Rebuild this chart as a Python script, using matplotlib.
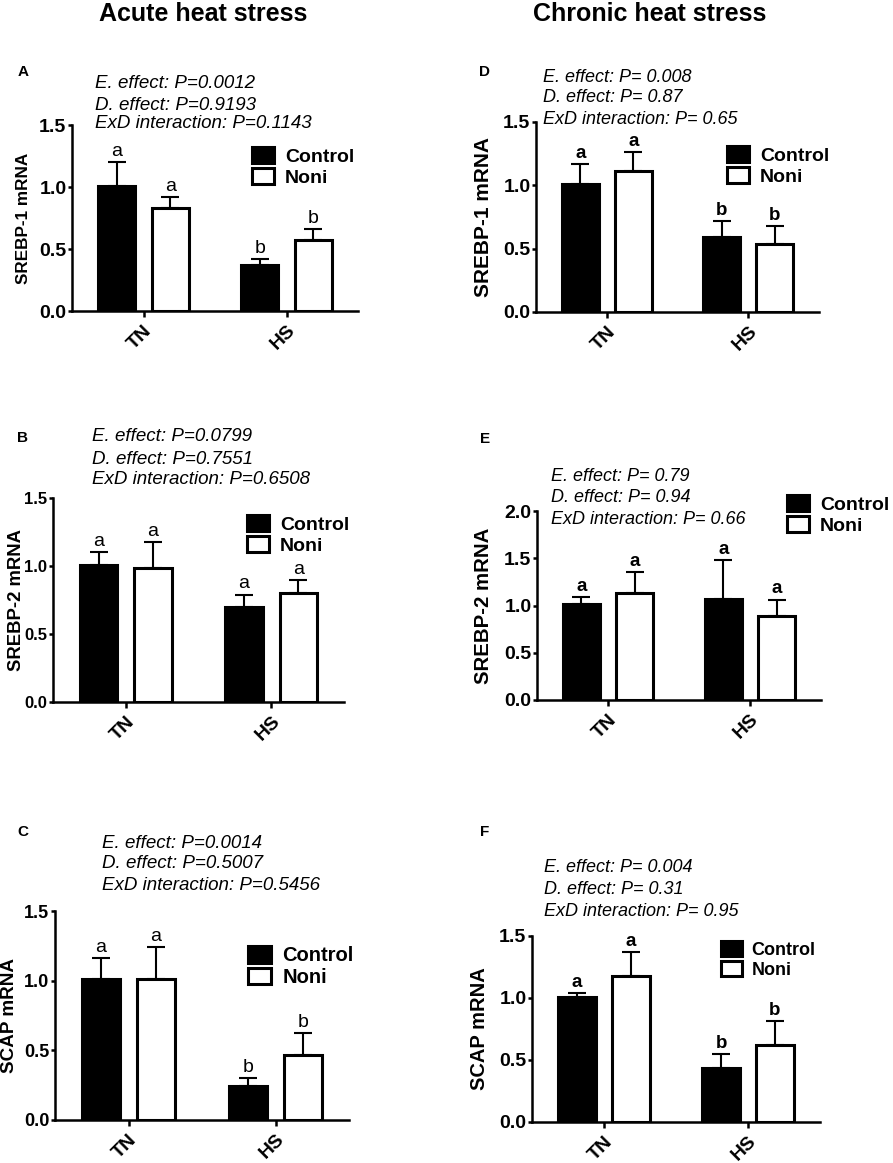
import matplotlib
matplotlib.use("Agg")
import matplotlib.pyplot as plt
from matplotlib.patches import Patch

plt.rcParams['font.family'] = ['Liberation Sans', 'DejaVu Sans']

W, H = 893, 1163
groups = ['TN', 'HS']
series_names = ['Control', 'Noni']

# Panel values (mean, upper SEM)
A_control = [1.01, 0.37]; A_control_err = [0.19, 0.05]
A_noni = [0.83, 0.57];    A_noni_err = [0.09, 0.09]
B_control = [1.01, 0.70]; B_control_err = [0.09, 0.09]
B_noni = [0.985, 0.805];  B_noni_err = [0.19, 0.09]
C_control = [1.01, 0.245]; C_control_err = [0.155, 0.055]
C_noni = [1.015, 0.465];   C_noni_err = [0.227, 0.16]
D_control = [1.01, 0.59]; D_control_err = [0.16, 0.13]
D_noni = [1.11, 0.54];    D_noni_err = [0.15, 0.14]
E_control = [1.014, 1.074]; E_control_err = [0.076, 0.405]
E_noni = [1.134, 0.894];    E_noni_err = [0.222, 0.169]
F_control = [1.01, 0.439]; F_control_err = [0.032, 0.108]
F_noni = [1.177, 0.625];   F_noni_err = [0.194, 0.188]

A_letters = [['a', 'b'], ['a', 'b']]
B_letters = [['a', 'a'], ['a', 'a']]
C_letters = [['a', 'b'], ['a', 'b']]
D_letters = [['a', 'b'], ['a', 'b']]
E_letters = [['a', 'a'], ['a', 'a']]
F_letters = [['a', 'b'], ['a', 'b']]

A_stats = ['E. effect: P=0.0012', 'D. effect: P=0.9193', 'ExD interaction: P=0.1143']
B_stats = ['E. effect: P=0.0799', 'D. effect: P=0.7551', 'ExD interaction: P=0.6508']
C_stats = ['E. effect: P=0.0014', 'D. effect: P=0.5007', 'ExD interaction: P=0.5456']
D_stats = ['E. effect: P= 0.008', 'D. effect: P= 0.87', 'ExD interaction: P= 0.65']
E_stats = ['E. effect: P= 0.79', 'D. effect: P= 0.94', 'ExD interaction: P= 0.66']
F_stats = ['E. effect: P= 0.004', 'D. effect: P= 0.31', 'ExD interaction: P= 0.95']

ylabels = {'A': 'SREBP-1 mRNA', 'B': 'SREBP-2 mRNA', 'C': 'SCAP mRNA',
           'D': 'SREBP-1 mRNA', 'E': 'SREBP-2 mRNA', 'F': 'SCAP mRNA'}
col_titles = ['Acute heat stress', 'Chronic heat stress']

panels = [
    dict(name='A', ctrl=A_control, ce=A_control_err, noni=A_noni, ne=A_noni_err, let=A_letters, stats=A_stats,
         box=(72, 125, 358, 311), ymax=1.5, ticks=[0, 0.5, 1.0, 1.5], bold_let=False, ylab_x=31, ylab_fs=12.3,
         tick_fs=14, stat_xy=(95, [84, 105, 124]), stat_fs=13.5, leg=(252, 147), leg_fs=14, letter=(23, 72)),
    dict(name='B', ctrl=B_control, ce=B_control_err, noni=B_noni, ne=B_noni_err, let=B_letters, stats=B_stats,
         box=(53, 498, 344, 702), ymax=1.5, ticks=[0, 0.5, 1.0, 1.5], bold_let=False, ylab_x=25, ylab_fs=13.3,
         tick_fs=12, stat_xy=(92, [437, 459, 480]), stat_fs=13.5, leg=(247, 515), leg_fs=14, letter=(23, 438)),
    dict(name='C', ctrl=C_control, ce=C_control_err, noni=C_noni, ne=C_noni_err, let=C_letters, stats=C_stats,
         box=(55, 911, 349, 1120), ymax=1.5, ticks=[0, 0.5, 1.0, 1.5], bold_let=False, ylab_x=18.5, ylab_fs=13.6,
         tick_fs=13, stat_xy=(102, [843, 864, 886]), stat_fs=13.5, leg=(248, 946), leg_fs=14.5, letter=(23, 832)),
    dict(name='D', ctrl=D_control, ce=D_control_err, noni=D_noni, ne=D_noni_err, let=D_letters, stats=D_stats,
         box=(536, 122, 819, 312), ymax=1.5, ticks=[0, 0.5, 1.0, 1.5], bold_let=True, ylab_x=493, ylab_fs=15,
         tick_fs=14, stat_xy=(543, [77, 98, 120]), stat_fs=13, leg=(727, 146), leg_fs=14, letter=(485, 72)),
    dict(name='E', ctrl=E_control, ce=E_control_err, noni=E_noni, ne=E_noni_err, let=E_letters, stats=E_stats,
         box=(537, 511, 821, 700), ymax=2.0, ticks=[0, 0.5, 1.0, 1.5, 2.0], bold_let=True, ylab_x=493, ylab_fs=14.7,
         tick_fs=14, stat_xy=(551, [477, 498, 520]), stat_fs=13, leg=(787, 495), leg_fs=14, letter=(485, 439)),
    dict(name='F', ctrl=F_control, ce=F_control_err, noni=F_noni, ne=F_noni_err, let=F_letters, stats=F_stats,
         box=(532, 936, 820, 1122), ymax=1.5, ticks=[0, 0.5, 1.0, 1.5], bold_let=True, ylab_x=489, ylab_fs=14.5,
         tick_fs=14, stat_xy=(544, [867, 889, 911]), stat_fs=13, leg=(721, 941), leg_fs=13, letter=(485, 832)),
]

fig = plt.figure(figsize=(W / 100, H / 100), dpi=100)

def fx(px):
    return px / W

def fy(py):
    return 1 - py / H

# Column titles
fig.text(fx(203), fy(14), col_titles[0], ha='center', va='center', fontsize=18, fontweight='bold')
fig.text(fx(650), fy(14), col_titles[1], ha='center', va='center', fontsize=18, fontweight='bold')

width = 0.26
off = 0.187
for p in panels:
    l, t, r, b = p['box']
    ax = fig.add_axes([fx(l), fy(b), (r - l) / W, (b - t) / H])
    xs = list(range(len(groups)))
    for si, (vals, errs, fc) in enumerate([(p['ctrl'], p['ce'], 'black'), (p['noni'], p['ne'], 'white')]):
        xpos = [x + (-off if si == 0 else off) for x in xs]
        ax.bar(xpos, vals, width=width, facecolor=fc, edgecolor='black', linewidth=2.2, zorder=3)
        ax.errorbar(xpos, vals, yerr=[[0] * len(vals), errs], fmt='none', ecolor='black',
                    elinewidth=1.5, capsize=6.5, capthick=1.5, zorder=2)
        for xi, v, e, lt in zip(xpos, vals, errs, p['let'][si]):
            ax.annotate(lt, (xi, v + e), xytext=(0, 1.5), textcoords='offset points',
                        ha='center', va='bottom', fontsize=14 if not p['bold_let'] else 13.5,
                        fontweight='bold' if p['bold_let'] else 'normal')
    ax.set_xlim(-0.5, 1.5)
    ax.set_ylim(0, p['ymax'])
    ax.set_yticks(p['ticks'])
    ax.set_yticklabels(['%.1f' % v for v in p['ticks']])
    ax.set_xticks(xs)
    ax.set_xticklabels(groups, rotation=45, ha='right', rotation_mode='anchor')
    for sp in ['top', 'right']:
        ax.spines[sp].set_visible(False)
    for sp in ['left', 'bottom']:
        ax.spines[sp].set_linewidth(1.8)
    ax.tick_params(axis='y', direction='out', length=3, width=1.8, pad=1, labelsize=p['tick_fs'])
    ax.tick_params(axis='x', direction='out', length=4, width=1.8, pad=4, labelsize=14)
    for lab in ax.get_xticklabels() + ax.get_yticklabels():
        lab.set_fontweight('bold')
    ax.set_ylabel(ylabels[p['name']], fontsize=p['ylab_fs'], fontweight='bold')
    ax.yaxis.set_label_coords(fx(p['ylab_x']), fy((t + b) / 2), transform=fig.transFigure)
    sx, sys_ = p['stat_xy']
    for line, yy in zip(p['stats'], sys_):
        fig.text(fx(sx), fy(yy), line, ha='left', va='center', fontsize=p['stat_fs'], style='italic')
    fig.text(fx(p['letter'][0]), fy(p['letter'][1]), p['name'], ha='center', va='center',
             fontsize=11, fontweight='bold')
    handles = [Patch(facecolor='black', edgecolor='black', linewidth=2.2, label=series_names[0]),
               Patch(facecolor='white', edgecolor='black', linewidth=2.2, label=series_names[1])]
    ax.legend(handles=handles, loc='upper left', bbox_to_anchor=(fx(p['leg'][0]), fy(p['leg'][1])),
              bbox_transform=fig.transFigure, frameon=False, handlelength=1.15, handleheight=0.9,
              handletextpad=0.55, labelspacing=0.12, borderpad=0, borderaxespad=0,
              prop={'weight': 'bold', 'size': p['leg_fs']})

fig.savefig('out.png', dpi=100, facecolor='white')
